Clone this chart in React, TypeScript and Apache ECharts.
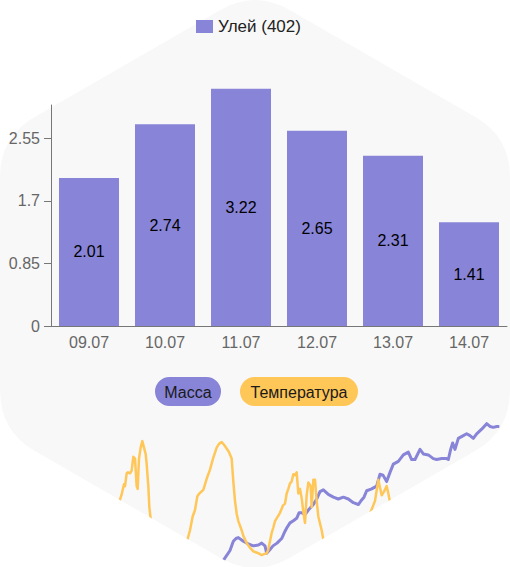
import React, { useEffect, useRef } from "react";
import * as echarts from "echarts";

const barSeriesName = "Улей (402)";
const barCategories = ["09.07", "10.07", "11.07", "12.07", "13.07", "14.07"];
const barValues = [2.01, 2.74, 3.22, 2.65, 2.31, 1.41];
const yTickValues = [0, 0.85, 1.7, 2.55];

const pillLabels = ["Масса", "Температура"];

// [hour, kg]
const massPoints: [number, number][] = [
  [36.6, 60.25], [39.0, 60.9], [40.0, 61.4], [40.8, 61.55], [41.5, 61.6], [43.0, 61.4],
  [44.5, 61.25], [46.0, 61.15], [47.5, 61.2], [48.5, 61.3], [49.5, 61.15], [50.0, 60.75],
  [51.0, 60.95], [51.9, 61.15], [53.1, 61.3], [54.5, 61.55], [55.5, 61.95], [56.1, 62.15],
  [57.0, 62.4], [57.9, 62.5], [59.0, 62.65], [59.7, 62.95], [60.5, 62.95], [61.5, 62.85],
  [62.5, 63.1], [64.0, 63.4], [65.0, 63.7], [66.0, 64.1], [67.0, 64.2], [68.5, 63.95],
  [70.0, 63.8], [71.5, 63.7], [73.0, 63.8], [74.5, 63.7], [76.0, 63.5], [77.5, 63.4],
  [78.5, 63.65], [79.2, 63.8], [80.0, 64.15], [81.5, 64.25], [83.0, 64.4], [84.0, 65.05],
  [84.9, 65.0], [86.0, 64.65], [87.0, 65.15], [88.0, 65.6], [89.5, 65.75], [91.0, 66.1],
  [92.5, 66.25], [93.5, 65.85], [94.5, 65.85], [96.0, 66.4], [97.0, 66.15], [98.5, 66.1],
  [100.0, 65.9], [101.0, 65.85], [102.5, 65.9], [104.0, 65.9], [104.5, 65.85], [105.2, 66.4],
  [105.8, 66.75], [106.5, 66.4], [107.5, 67.0], [109.0, 67.15], [110.0, 67.25], [111.0, 67.15],
  [112.0, 67.0], [113.0, 67.25], [114.5, 67.5], [116.0, 67.8], [117.0, 67.65], [118.0, 67.6],
  [119.0, 67.65], [119.8, 67.65],
];

// [hour, °C]
const tempPoints: [number, number][] = [
  [4.8, 22.0], [6.5, 25.8], [7.2, 28.0], [7.5, 27.6], [8.0, 30.4], [8.4, 30.6], [9.0, 30.4],
  [9.5, 31.0], [10.0, 34.0], [10.5, 33.6], [11.0, 27.6], [11.3, 27.0], [11.7, 33.6], [12.2, 36.0],
  [12.7, 37.4], [13.2, 36.0], [13.7, 34.6], [14.0, 32.4], [14.5, 27.6], [14.8, 23.0], [15.6, 18.0],
  [18.0, 14.0], [22.5, 11.6], [25.5, 14.0], [27.0, 18.0], [27.8, 21.0], [28.5, 22.4], [29.2, 25.4],
  [29.8, 26.0], [31.0, 26.8], [32.0, 29.2], [33.0, 31.2], [33.9, 33.6], [35.0, 36.0], [35.7, 36.8],
  [36.5, 37.2], [37.2, 36.6], [38.0, 35.8], [38.7, 35.0], [39.5, 33.6], [40.0, 28.6], [40.5, 24.4],
  [41.0, 21.6], [41.5, 20.0], [42.5, 18.0], [43.0, 16.8], [44.0, 15.2], [45.0, 14.2], [46.0, 13.4],
  [47.5, 13.0], [48.5, 12.6], [49.2, 12.8], [50.0, 13.0], [50.4, 13.6], [51.0, 15.6], [51.5, 17.4],
  [52.0, 18.6], [52.5, 20.0], [54.0, 21.8], [54.9, 23.4], [55.5, 23.8], [56.0, 26.0], [56.5, 27.0],
  [57.0, 28.2], [57.5, 28.6], [58.0, 30.2], [58.5, 30.0], [59.0, 30.6], [59.5, 26.0], [60.0, 27.0],
  [60.5, 25.0], [61.0, 22.0], [61.5, 19.6], [62.0, 25.6], [62.5, 28.4], [63.2, 27.6], [63.5, 23.0],
  [64.0, 29.0], [64.5, 29.0], [65.0, 24.4], [65.5, 21.0], [66.5, 18.0], [67.5, 14.0], [72.0, 13.0],
  [78.0, 18.0], [81.0, 21.6], [82.5, 24.4], [83.5, 29.0], [84.5, 25.6], [85.2, 26.4], [86.0, 27.6],
  [86.5, 26.0], [87.3, 23.0], [90.0, 19.0],
];

const HEX_D =
  "M 220.34 9.98 Q 255 -10 289.66 9.98 L 475.34 117.02 Q 510 137 510 177 L 510 391 Q 510 431 475.34 450.98 L 289.66 558.02 Q 255 578 220.34 558.02 L 34.66 450.98 Q 0 431 0 391 L 0 177 Q 0 137 34.66 117.02 Z";
const MASK_D =
  "M -10 380 L 0 380 L 0 391 Q 0 431 34.66 450.98 L 220.34 558.02 Q 255 578 289.66 558.02 L 475.34 450.98 Q 510 431 510 391 L 510 380 L 520 380 L 520 600 L -10 600 Z";

let registered = false;
function registerShapes() {
  if (registered) return;
  echarts.graphic.registerShape("hexBg", echarts.graphic.extendPath(HEX_D, {}));
  echarts.graphic.registerShape("hexMask", echarts.graphic.extendPath(MASK_D, {}));
  registered = true;
}

const FONT = "'Liberation Sans', Arial, Helvetica, sans-serif";
const PURPLE = "#8884d8";
const ORANGE = "#ffc658";

export default function App() {
  const ref = useRef<HTMLDivElement>(null);
  useEffect(() => {
    if (!ref.current) return;
    registerShapes();
    const chart = echarts.init(ref.current, undefined, { renderer: "svg" });

    const pillColors = [PURPLE, ORANGE];
    const pillBoxes = [
      { x: 155, w: 66 },
      { x: 240, w: 118 },
    ];
    const pills = pillLabels.map((label, i) => ({
      type: "group",
      x: pillBoxes[i].x,
      y: 377,
      z: 10,
      children: [
        {
          type: "rect",
          shape: { x: 0, y: 0, width: pillBoxes[i].w, height: 29, r: 14.5 },
          style: { fill: pillColors[i] },
        },
        {
          type: "text",
          style: {
            text: label,
            x: pillBoxes[i].w / 2,
            y: 15,
            fill: "#1a1a1a",
            font: `16px ${FONT}`,
            align: "center",
            verticalAlign: "middle",
            textAlign: "center",
            textVerticalAlign: "middle",
          },
        },
      ],
    }));

    chart.setOption({
      animation: false,
      textStyle: { fontFamily: FONT },
      graphic: [
        { type: "hexBg", x: 0, y: 0, z: -10, silent: true, style: { fill: "#f8f8f8" } },
        { type: "hexMask", x: 0, y: 0, z: 100, silent: true, style: { fill: "#ffffff" } },
        ...pills,
      ],
      legend: {
        data: [barSeriesName],
        left: 191,
        top: 13,
        itemWidth: 17,
        itemHeight: 13,
        icon: "rect",
        textStyle: { fontSize: 17, color: "#222", fontFamily: FONT },
      },
      grid: [
        { left: 51, right: 3, top: 105, bottom: 241 },
        { left: 100, width: 400, top: 420, height: 160 },
      ],
      xAxis: [
        {
          type: "category",
          gridIndex: 0,
          data: barCategories,
          axisLine: { lineStyle: { color: "#777" } },
          axisTick: { alignWithLabel: true, length: 6, lineStyle: { color: "#777" } },
          axisLabel: { color: "#666", fontSize: 16, margin: 8, fontFamily: FONT },
        },
        { type: "value", gridIndex: 1, min: 0, max: 120, show: false },
      ],
      yAxis: [
        {
          type: "value",
          gridIndex: 0,
          min: 0,
          max: 3.0,
          splitLine: { show: false },
          axisLine: { show: true, lineStyle: { color: "#777" } },
          axisTick: { show: true, length: 7, customValues: yTickValues, lineStyle: { color: "#777" } },
          axisLabel: { color: "#666", fontSize: 16, margin: 11, customValues: yTickValues, fontFamily: FONT },
        },
        { type: "value", gridIndex: 1, min: 60, max: 68, show: false },
        { type: "value", gridIndex: 1, min: 10, max: 42, show: false },
      ],
      series: [
        {
          name: barSeriesName,
          type: "bar",
          xAxisIndex: 0,
          yAxisIndex: 0,
          data: barValues,
          barWidth: 60,
          clip: false,
          itemStyle: { color: PURPLE },
          label: { show: true, position: "inside", color: "#000", fontSize: 16, fontFamily: FONT },
        },
        {
          name: "Масса",
          type: "line",
          xAxisIndex: 1,
          yAxisIndex: 1,
          data: massPoints,
          showSymbol: false,
          lineStyle: { color: PURPLE, width: 3, join: "round" },
          itemStyle: { color: PURPLE },
          z: 3,
        },
        {
          name: "Температура",
          type: "line",
          xAxisIndex: 1,
          yAxisIndex: 2,
          data: tempPoints,
          showSymbol: false,
          lineStyle: { color: ORANGE, width: 2.5, join: "round" },
          itemStyle: { color: ORANGE },
          z: 4,
        },
      ],
    });
    return () => chart.dispose();
  }, []);
  return (
    <div
      ref={ref}
      style={{ position: "fixed", left: 0, top: 0, width: 510, height: 567, background: "#fff" }}
    />
  );
}
